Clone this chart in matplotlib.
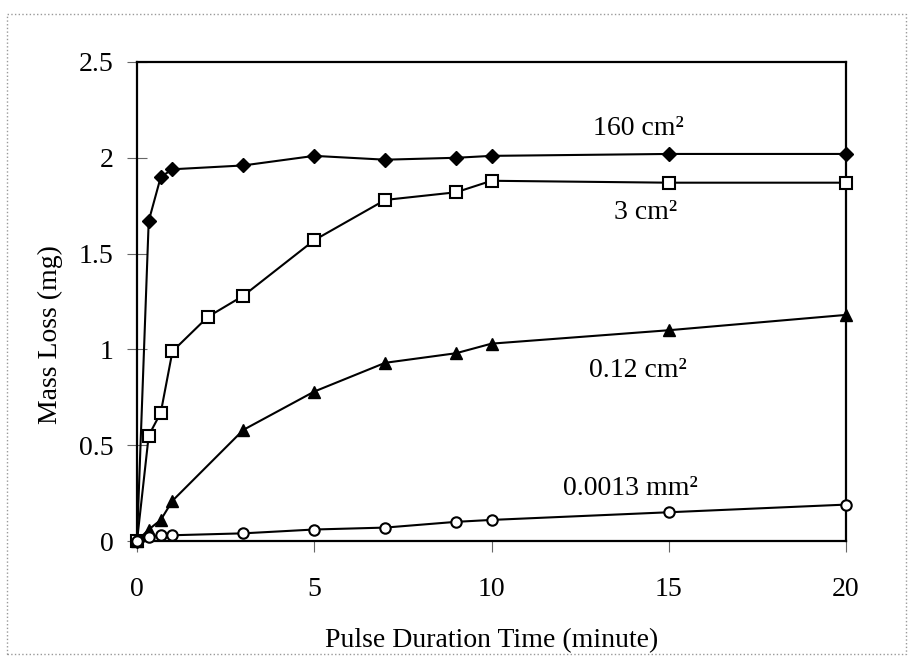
import matplotlib.pyplot as plt
from matplotlib.patches import Rectangle

plt.rcParams["font.family"] = ["Liberation Serif", "DejaVu Serif"]

# pulse duration (minute)
time_min = [0, 0.33, 0.67, 1, 3, 5, 7, 9, 10, 15, 20]
time_min_3cm = [0, 0.33, 0.67, 1, 2, 3, 5, 7, 9, 10, 15, 20]

# mass loss (mg)
loss_160cm2 = [0, 1.67, 1.90, 1.94, 1.96, 2.01, 1.99, 2.00, 2.01, 2.02, 2.02]
loss_3cm2 = [0, 0.55, 0.67, 0.99, 1.17, 1.28, 1.57, 1.78, 1.82, 1.88, 1.87, 1.87]
loss_012cm2 = [0, 0.06, 0.11, 0.21, 0.58, 0.78, 0.93, 0.98, 1.03, 1.10, 1.18]
loss_00013mm2 = [0, 0.02, 0.03, 0.03, 0.04, 0.06, 0.07, 0.10, 0.11, 0.15, 0.19]

series_labels = ["160 cm²", "3 cm²", "0.12 cm²", "0.0013 mm²"]
x_ticks = [0, 5, 10, 15, 20]
y_ticks = [0, 0.5, 1, 1.5, 2, 2.5]
y_tick_labels = ["0", "0.5", "1", "1.5", "2", "2.5"]

fig = plt.figure(figsize=(9.11, 6.6), dpi=100)
ax = fig.add_axes([0.1504, 0.1803, 0.7783, 0.7258])

line_kw = {"color": "black", "linewidth": 1.5, "clip_on": False, "zorder": 3}
ax.plot(time_min, loss_160cm2, marker="D", markersize=6.8,
        markerfacecolor="black", markeredgecolor="black", **line_kw)
ax.plot(time_min_3cm, loss_3cm2, marker="s", markersize=8.5,
        markerfacecolor="white", markeredgecolor="black", markeredgewidth=1.5, **line_kw)
ax.plot(time_min, loss_012cm2, marker="^", markersize=9,
        markerfacecolor="black", markeredgecolor="black", **line_kw)
ax.plot(time_min, loss_00013mm2, marker="o", markersize=7.5,
        markerfacecolor="white", markeredgecolor="black", markeredgewidth=1.5, **line_kw)

# series names written next to the curves (left edge, baseline)
label_pos = [(12.85, 2.12), (13.45, 1.68), (12.74, 0.855), (12.03, 0.24)]
for text, (lx, ly) in zip(series_labels, label_pos):
    ax.text(lx, ly, text, fontsize=20, ha="left", va="baseline")

ax.set_xlim(0, 20)
ax.set_ylim(0, 2.5)
ax.set_xticks(x_ticks)
ax.set_yticks(y_ticks)
ax.set_yticklabels(y_tick_labels)
ax.tick_params(axis="x", direction="out", length=8, width=0.8, color="#666666",
               labelsize=20, pad=18)
ax.tick_params(axis="y", direction="inout", length=14, width=0.8, color="#666666",
               labelsize=20, pad=10)
for spine in ax.spines.values():
    spine.set_linewidth(1.6)

fig.text(491.5 / 911, 1 - 647 / 660, "Pulse Duration Time (minute)", fontsize=20,
         ha="center", va="baseline")
fig.text(50 / 911, 1 - 335 / 660, "Mass Loss (mg)", fontsize=20, rotation=90,
         ha="center", va="center")

# dotted frame around the whole picture
fig.patches.append(Rectangle((7 / 911, 1 - 654 / 660), 899 / 911, 640 / 660,
                             transform=fig.transFigure, fill=False,
                             edgecolor="#999999", linestyle=":", linewidth=1))

fig.savefig("out.png", dpi=100)
